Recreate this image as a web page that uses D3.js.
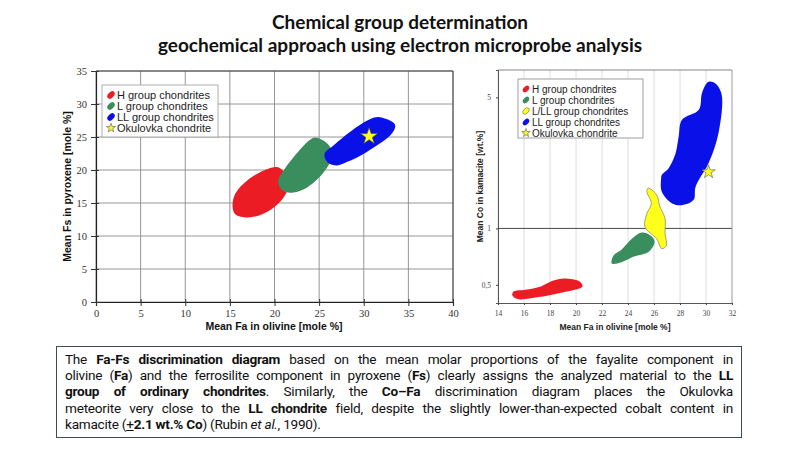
<!DOCTYPE html>
<html>
<head>
<meta charset="utf-8">
<script src="https://cdn.jsdelivr.net/npm/d3@7"></script>
<style>
  body { margin: 0; background: #fff; }
  #wrap { position: relative; width: 800px; height: 450px; overflow: hidden; }
  svg { position: absolute; left: 0; top: 0; }
  #note {
    position: absolute; left: 56px; top: 346px; width: 686px; height: 92px;
    box-sizing: border-box; border: 1px solid #3d4b55; padding: 4px 8px 0 8px;
    font-family: Roboto, "Noto Sans", sans-serif; font-size: 13.6px; color: #111;
    line-height: 16.2px; letter-spacing: -0.25px;
  }
  #note .ln { text-align: justify; text-align-last: justify; white-space: nowrap; }
  #note .ln.last { text-align-last: left; }
  #note b { font-weight: 700; }
</style>
</head>
<body>
<div id="wrap">
  <svg id="chart" width="800" height="450"></svg>
  <div id="note"></div>
</div>
<script>
// ---- data ----
const titleLines = ['Chemical group determination', 'geochemical approach using electron microprobe analysis'];

// left diagram: Fa (olivine) vs Fs (pyroxene)
const fsTicksX = [0, 5, 10, 15, 20, 25, 30, 35, 40];
const fsTicksY = [0, 5, 10, 15, 20, 25, 30, 35];
const fsH  = [[15.3,14.5],[15.6,16.4],[17.0,18.5],[19.3,20.2],[20.4,20.4],[21.3,19.2],[21.5,17.2],[20.5,15.0],[18.8,13.4],[17.0,12.8],[15.6,13.3]];
const fsL  = [[24.7,24.9],[26.0,23.9],[26.5,22.3],[25.6,19.8],[23.7,17.4],[22.1,16.6],[21.0,16.8],[20.4,18.2],[21.0,19.9],[23.2,23.6],[24.0,24.6]];
const fsLL = [[31.8,28.0],[33.5,26.9],[33.2,25.6],[30.3,22.7],[28.1,21.2],[27.0,20.7],[26.0,21.1],[25.6,22.4],[26.6,23.7],[29.2,26.5],[30.7,27.7]];
const fsStar = [30.6, 25.1];

// right diagram: Fa (olivine) vs Co (kamacite), log scale
const coTicksX = [14, 16, 18, 20, 22, 24, 26, 28, 30, 32];
const coTicksY = [0.5, 1, 5];
const coH  = [[15.1,0.44],[15.5,0.42],[17.1,0.43],[18.6,0.45],[19.9,0.47],[20.5,0.49],[20.3,0.52],[19.1,0.54],[18.2,0.525],[17.3,0.49],[16.1,0.47],[15.2,0.46]];
const coL  = [[22.75,0.65],[22.9,0.72],[23.5,0.77],[24.3,0.88],[25.05,0.95],[25.7,0.92],[26.05,0.85],[25.6,0.75],[24.4,0.705],[23.5,0.66]];
const coLLL = [[25.55,1.64],[26.2,1.51],[26.45,1.31],[26.85,1.13],[26.85,0.94],[26.95,0.81],[26.6,0.78],[26.2,0.88],[25.3,1.02],[25.45,1.2],[25.8,1.36],[25.45,1.57]];
const coLL = [[26.55,1.85],[26.6,1.57],[27.4,1.36],[28.15,1.33],[29.05,1.42],[29.2,1.67],[30.2,2.23],[30.95,3.2],[31.2,5.2],[30.7,5.95],[30.2,6.05],[29.7,5.3],[29.45,4.3],[28.15,3.8],[27.9,3.1],[27.65,2.5],[27.1,2.08],[26.6,1.93]];
const coStar = [30.2, 2.0];

const colRed = '#ec1c24', colGreen = '#3a8d5d', colBlue = '#0a10e8', colYellow = '#ffff1a';

const fsLegend = [
  { label: 'H group chondrites', color: colRed },
  { label: 'L group chondrites', color: colGreen },
  { label: 'LL group chondrites', color: colBlue },
  { label: 'Okulovka chondrite', star: true }
];
const coLegend = [
  { label: 'H group chondrites', color: colRed },
  { label: 'L group chondrites', color: colGreen },
  { label: 'L/LL group chondrites', color: colYellow, outline: true },
  { label: 'LL group chondrites', color: colBlue },
  { label: 'Okulovka chondrite', star: true }
];

const noteLines = [
  'The <b>Fa-Fs discrimination diagram</b> based on the mean molar proportions of the fayalite component in',
  'olivine (<b>Fa</b>) and the ferrosilite component in pyroxene (<b>Fs</b>) clearly assigns the analyzed material to the <b>LL</b>',
  '<b>group of ordinary chondrites</b>. Similarly, the <b>Co–Fa</b> discrimination diagram places the Okulovka',
  'meteorite very close to the <b>LL chondrite</b> field, despite the slightly lower-than-expected cobalt content in',
  'kamacite (<u>+</u><b>2.1 wt.% Co</b>) (Rubin <i>et al.</i>, 1990).'
];

// ---- drawing ----
const svg = d3.select('#chart');
const serif = '"Liberation Serif", "Times New Roman", serif';
const sans = '"Liberation Sans", Arial, sans-serif';
const commaFmt = d3.formatLocale({ decimal: ',', thousands: '.', grouping: [3], currency: ['', ''] }).format('');

svg.selectAll('.title')
  .data(titleLines)
  .join('text')
  .attr('x', 400)
  .attr('y', (d, i) => 29 + i * 23)
  .attr('text-anchor', 'middle')
  .style('font-family', 'Lato, "Open Sans", sans-serif')
  .attr('font-weight', 700)
  .attr('font-size', 19)
  .attr('fill', '#111')
  .text(d => d);

const star = d3.symbol().type(d3.symbolStar);

function legendIcon(g, d, size) {
  if (d.star) {
    g.append('path')
      .attr('d', star.size(size * 3.2)())
      .attr('fill', colYellow)
      .attr('stroke', '#555')
      .attr('stroke-width', 0.6);
  } else {
    g.append('ellipse')
      .attr('rx', size * 0.55).attr('ry', size * 0.35)
      .attr('transform', 'rotate(-45)')
      .attr('fill', d.color)
      .attr('stroke', d.outline ? '#555' : 'none')
      .attr('stroke-width', 0.5);
  }
}

// left chart
(function () {
  const x = d3.scaleLinear().domain([0, 40]).range([96, 453]);
  const y = d3.scaleLinear().domain([0, 35]).range([302, 71]);
  const g = svg.append('g');

  g.selectAll('.gx').data(fsTicksX).join('line')
    .attr('x1', d => x(d)).attr('x2', d => x(d))
    .attr('y1', y(0)).attr('y2', y(35))
    .attr('stroke', '#8a8a8a').attr('stroke-width', 0.9);
  g.selectAll('.gy').data(fsTicksY).join('line')
    .attr('x1', x(0)).attr('x2', x(40))
    .attr('y1', d => y(d)).attr('y2', d => y(d))
    .attr('stroke', '#8a8a8a').attr('stroke-width', 0.9);

  const line = d3.line().x(d => x(d[0])).y(d => y(d[1])).curve(d3.curveCatmullRomClosed.alpha(0.5));
  [[fsH, colRed], [fsL, colGreen], [fsLL, colBlue]].forEach(([pts, c]) => {
    g.append('path').attr('d', line(pts)).attr('fill', c);
  });

  g.append('path')
    .attr('d', star.size(90)())
    .attr('transform', `translate(${x(fsStar[0])},${y(fsStar[1])})`)
    .attr('fill', colYellow).attr('stroke', '#444').attr('stroke-width', 0.6);

  // axes (ticks cross the axis line)
  const ax = g.append('g').attr('transform', `translate(0,${y(0)})`)
    .call(d3.axisBottom(x).tickValues(fsTicksX).tickSize(4).tickPadding(4));
  ax.selectAll('.tick line').attr('y1', -3);
  const ay = g.append('g').attr('transform', `translate(${x(0)},0)`)
    .call(d3.axisLeft(y).tickValues(fsTicksY).tickSize(5).tickPadding(4));
  ay.selectAll('.tick line').attr('x1', 3);
  [ax, ay].forEach(a => {
    a.select('.domain').attr('stroke', '#222').attr('stroke-width', 1.2);
    a.selectAll('text').style('font-family', serif).attr('font-size', 10.5).attr('fill', '#333');
    a.selectAll('.tick line').attr('stroke', '#333');
  });
  g.append('line').attr('x1', x(0)).attr('x2', x(40)).attr('y1', y(35)).attr('y2', y(35)).attr('stroke', '#444');
  g.append('line').attr('x1', x(40)).attr('x2', x(40)).attr('y1', y(0)).attr('y2', y(35)).attr('stroke', '#444');

  g.append('text').style('font-family', sans).attr('x', 274).attr('y', 330).attr('text-anchor', 'middle')
    .attr('font-weight', 700).attr('font-size', 10.5).attr('fill', '#111')
    .text('Mean Fa in olivine [mole %]');
  g.append('text').style('font-family', sans).attr('transform', `translate(71,${(y(0) + y(35)) / 2}) rotate(-90)`)
    .attr('text-anchor', 'middle')
    .attr('font-weight', 700).attr('font-size', 10.5).attr('fill', '#111')
    .text('Mean Fs in pyroxene [mole %]');

  // legend
  const lg = g.append('g');
  lg.append('rect').attr('x', 102).attr('y', 85).attr('width', 116).attr('height', 52)
    .attr('fill', '#fff').attr('stroke', '#999').attr('stroke-width', 0.8);
  const it = lg.selectAll('.it').data(fsLegend).join('g')
    .attr('transform', (d, i) => `translate(111,${95 + i * 11})`);
  it.each(function (d) { legendIcon(d3.select(this), d, 8); });
  it.append('text').style('font-family', sans).attr('x', 6).attr('dy', '0.35em')
    .attr('font-size', 11).attr('fill', '#222')
    .text(d => d.label);
})();

// right chart
(function () {
  const x = d3.scaleLinear().domain([14, 32]).range([498, 732]);
  const y = d3.scaleLog().domain([0.4, 7]).range([303, 70]);
  const g = svg.append('g');

  g.selectAll('.gx').data(coTicksX).join('line')
    .attr('x1', d => x(d)).attr('x2', d => x(d))
    .attr('y1', y(0.4)).attr('y2', y(7))
    .attr('stroke', '#d6d6d6').attr('stroke-width', 0.8);
  g.append('line').attr('x1', x(14)).attr('x2', x(32)).attr('y1', y(1)).attr('y2', y(1))
    .attr('stroke', '#333').attr('stroke-width', 0.9);

  const line = d3.line().x(d => x(d[0])).y(d => y(d[1])).curve(d3.curveCatmullRomClosed.alpha(0.5));
  [[coH, colRed, false], [coL, colGreen, false], [coLLL, colYellow, true], [coLL, colBlue, false]].forEach(([pts, c, o]) => {
    g.append('path').attr('d', line(pts)).attr('fill', c)
      .attr('stroke', o ? '#666' : 'none').attr('stroke-width', 0.6);
  });

  g.append('path')
    .attr('d', star.size(55)())
    .attr('transform', `translate(${x(coStar[0])},${y(coStar[1])})`)
    .attr('fill', colYellow).attr('stroke', '#555').attr('stroke-width', 0.6);

  const ax = g.append('g').attr('transform', `translate(0,${y(0.4)})`)
    .call(d3.axisBottom(x).tickValues(coTicksX).tickSize(2).tickPadding(6));
  const ay = g.append('g').attr('transform', `translate(${x(14)},0)`)
    .call(d3.axisLeft(y).tickValues(coTicksY).tickFormat(commaFmt).tickSize(2).tickPadding(5));
  [ax, ay].forEach(a => {
    a.select('.domain').attr('stroke', '#444').attr('stroke-width', 0.9);
    a.selectAll('text').style('font-family', serif).attr('font-size', 7.5).attr('fill', '#444');
    a.selectAll('.tick line').attr('stroke', '#444');
  });
  g.append('line').attr('x1', x(14)).attr('x2', x(32)).attr('y1', y(7)).attr('y2', y(7)).attr('stroke', '#666').attr('stroke-width', 0.8);
  g.append('line').attr('x1', x(32)).attr('x2', x(32)).attr('y1', y(0.4)).attr('y2', y(7)).attr('stroke', '#999').attr('stroke-width', 0.8);

  g.append('text').style('font-family', sans).attr('x', 615).attr('y', 330).attr('text-anchor', 'middle')
    .attr('font-weight', 700).attr('font-size', 8.5).attr('fill', '#222')
    .text('Mean Fa in olivine [mole %]');
  g.append('text').style('font-family', sans).attr('transform', `translate(483,${(y(0.4) + y(7)) / 2}) rotate(-90)`)
    .attr('text-anchor', 'middle')
    .attr('font-weight', 700).attr('font-size', 8.5).attr('fill', '#222')
    .text('Mean Co in kamacite [wt.%]');

  const lg = g.append('g');
  lg.append('rect').attr('x', 518).attr('y', 79).attr('width', 125).attr('height', 59)
    .attr('fill', '#fff').attr('stroke', '#888').attr('stroke-width', 0.8);
  const it = lg.selectAll('.it').data(coLegend).join('g')
    .attr('transform', (d, i) => `translate(526,${89 + i * 11})`);
  it.each(function (d) { legendIcon(d3.select(this), d, 7); });
  it.append('text').style('font-family', sans).attr('x', 6).attr('dy', '0.35em')
    .attr('font-size', 10).attr('fill', '#222')
    .text(d => d.label);
})();

// explanatory text box
d3.select('#note').selectAll('.ln')
  .data(noteLines)
  .join('div')
  .attr('class', (d, i) => i === noteLines.length - 1 ? 'ln last' : 'ln')
  .html(d => d);
</script>
</body>
</html>
